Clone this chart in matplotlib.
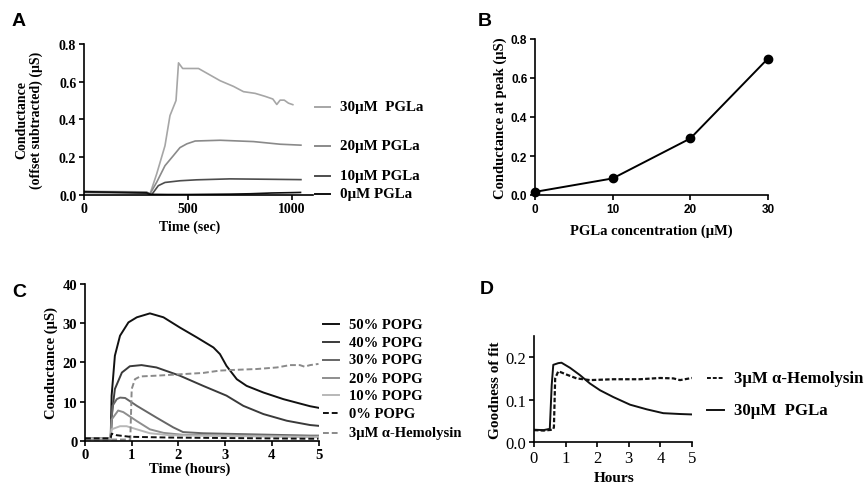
import matplotlib
matplotlib.use('Agg')
import matplotlib.pyplot as plt

plt.rcParams['font.family'] = ['Liberation Serif', 'DejaVu Serif']
plt.rcParams['axes.linewidth'] = 1.2
plt.rcParams['xtick.major.width'] = 1.2
plt.rcParams['ytick.major.width'] = 1.2
plt.rcParams['xtick.major.size'] = 3.5
plt.rcParams['ytick.major.size'] = 3.5

W, H = 867, 485

# ---- panel A : conductance vs time (sec)
a_0_t = [0, 100, 200, 300, 320, 400, 500, 600, 700, 800, 900, 1000, 1040]
a_0_v = [0.016, 0.014, 0.012, 0.010, 0.002, 0.001, 0.001, 0.002, 0.003, 0.005, 0.009, 0.011, 0.012]
a_10_t = [0, 100, 200, 300, 325, 357, 389, 461, 541, 701, 878, 1042]
a_10_v = [0.012, 0.011, 0.010, 0.008, 0.0, 0.048, 0.065, 0.074, 0.079, 0.084, 0.082, 0.080]
a_20_t = [0, 100, 200, 300, 317, 349, 389, 429, 461, 494, 534, 654, 814, 942, 1042]
a_20_v = [0.016, 0.015, 0.014, 0.013, 0.004, 0.066, 0.154, 0.207, 0.25, 0.27, 0.285, 0.289, 0.282, 0.268, 0.263]
a_30_t = [0, 100, 200, 300, 317, 349, 389, 413, 442, 454, 474, 550, 654, 718, 766, 822, 870, 907,
          926, 942, 962, 982, 1003]
a_30_v = [0.018, 0.017, 0.016, 0.015, 0.004, 0.11, 0.26, 0.42, 0.50, 0.70, 0.67, 0.67, 0.605, 0.575,
          0.547, 0.538, 0.522, 0.508, 0.479, 0.502, 0.502, 0.486, 0.478]
a_labels = ['30\u03bcM  PGLa', '20\u03bcM PGLa', '10\u03bcM PGLa', '0\u03bcM PGLa']
a_label_y = [0.467, 0.26, 0.10, 0.004]

# ---- panel B : peak conductance vs PGLa concentration
b_conc = [0, 10, 20, 30]
b_peak = [0.016, 0.085, 0.29, 0.70]

# ---- panel C : conductance vs time (hours)
c_50_t = [0, 0.55, 0.57, 0.64, 0.75, 0.93, 1.11, 1.39, 1.68, 2.03, 2.39, 2.75, 2.89, 3.03, 3.25, 3.46,
          3.82, 4.25, 4.82, 5.0]
c_50_v = [0.6, 0.6, 11.5, 21.7, 26.8, 30.2, 31.5, 32.5, 31.5, 28.9, 26.4, 23.8, 22.1, 19.1, 15.7, 14.0,
          12.3, 10.6, 8.8, 8.4]
c_40_t = [0, 0.55, 0.58, 0.64, 0.79, 0.96, 1.21, 1.53, 2.03, 2.53, 3.03, 3.39, 3.82, 4.32, 4.82, 5.0]
c_40_v = [0.6, 0.6, 7.2, 13.2, 17.4, 19.0, 19.3, 18.7, 16.6, 14.0, 11.5, 8.9, 6.8, 5.1, 4.0, 3.8]
c_30_t = [0, 0.55, 0.59, 0.68, 0.75, 0.86, 1.11, 1.53, 1.89, 2.1, 2.53, 4.82, 5.0]
c_30_v = [0.6, 0.6, 8.9, 10.6, 11.0, 10.9, 8.9, 5.9, 3.4, 2.2, 1.9, 1.3, 1.3]
c_20_t = [0, 0.55, 0.57, 0.71, 0.82, 1.11, 1.39, 1.68, 2.1, 4.82, 5.0]
c_20_v = [0.6, 0.6, 5.4, 7.7, 7.3, 5.0, 2.9, 2.0, 1.5, 1.1, 1.1]
c_10_t = [0, 0.55, 0.57, 0.75, 0.89, 1.11, 1.39, 1.82, 4.82, 5.0]
c_10_v = [0.6, 0.6, 2.9, 3.7, 3.7, 2.9, 1.9, 1.4, 0.9, 0.9]
c_0_t = [0, 0.55, 0.57, 0.68, 0.96, 1.82, 4.82, 5.0]
c_0_v = [0.6, 0.6, 1.8, 1.4, 1.0, 0.8, 0.5, 0.5]
c_hl_t = [0, 0.55, 0.97, 1.0, 1.07, 1.18, 1.53, 2.1, 2.53, 2.89, 3.25, 3.68, 4.11, 4.39, 4.6, 4.7,
          4.82, 5.0]
c_hl_v = [0.3, 0.3, 0.3, 13.2, 15.7, 16.4, 16.6, 17.0, 17.3, 17.9, 18.1, 18.3, 18.7, 19.3, 19.3, 18.9,
          19.3, 19.6]
c_labels = ['50% POPG', '40% POPG', '30% POPG', '20% POPG', '10% POPG', '0% POPG',
            '3\u03bcM \u03b1-Hemolysin']
c_label_y = [29.7, 25.1, 20.6, 16.0, 11.6, 7.0, 2.0]

# ---- panel D : goodness of fit
d_pg_t = [0, 0.3, 0.5, 0.56, 0.61, 0.77, 0.87, 1.14, 1.45, 1.77, 2.09, 2.51, 3.04, 3.57, 4.09, 4.62, 5.0]
d_pg_v = [0.029, 0.028, 0.031, 0.134, 0.182, 0.186, 0.187, 0.175, 0.158, 0.138, 0.122, 0.106, 0.088,
          0.077, 0.068, 0.066, 0.065]
d_hl_t = [0, 0.3, 0.6, 0.63, 0.67, 0.77, 1.03, 1.35, 1.77, 2.51, 3.35, 3.99, 4.41, 4.62, 5.0]
d_hl_v = [0.028, 0.027, 0.029, 0.035, 0.150, 0.167, 0.159, 0.150, 0.146, 0.148, 0.148, 0.151, 0.150,
          0.146, 0.151]
d_labels = ['3\u03bcM \u03b1-Hemolysin', '30\u03bcM  PGLa']
d_label_y = [0.152, 0.076]


def box(l, r, t, b):
    return [l / W, 1 - b / H, (r - l) / W, (b - t) / H]


def style_ax(ax):
    ax.spines['top'].set_visible(False)
    ax.spines['right'].set_visible(False)
    ax.tick_params(direction='out', pad=2)


def side_labels(ax, labels, ys, colors, styles, x0, x1, xt, size):
    # legend entries drawn next to the plot area (data coords, unclipped)
    for lab, y, c, ls in zip(labels, ys, colors, styles):
        ax.plot([x0, x1], [y, y], color=c, ls=ls, lw=1.4, clip_on=False)
        ax.text(xt, y, lab, va='center', ha='left', fontsize=size, fontweight='bold')


fig = plt.figure(figsize=(W / 100, H / 100), dpi=100)

# A
ax = fig.add_axes(box(84, 313, 45, 195.7))
style_ax(ax)
a_cols = ['#a6a6a6', '#8a8a8a', '#4d4d4d', '#111111']
ax.plot(a_30_t, a_30_v, color=a_cols[0], lw=1.2)
ax.plot(a_20_t, a_20_v, color=a_cols[1], lw=1.2)
ax.plot(a_10_t, a_10_v, color=a_cols[2], lw=1.2)
ax.plot(a_0_t, a_0_v, color=a_cols[3], lw=1.2)
ax.set_xlim(0, 1100)
ax.set_ylim(0, 0.8)
ax.set_xticks([0, 500, 1000])
ax.set_yticks([0, 0.2, 0.4, 0.6, 0.8])
ax.set_yticklabels(['0.0', '0.2', '0.4', '0.6', '0.8'])
for t in ax.get_xticklabels() + ax.get_yticklabels():
    t.set_fontweight('bold')
    t.set_fontsize(10)
ax.set_xlabel('Time (sec)', fontsize=10, fontweight='bold')
ax.xaxis.set_label_coords(0.46, -0.165)
ax.set_ylabel('Conductance\n(offset subtracted) (\u03bcS)', fontsize=10, fontweight='bold',
              linespacing=1.1)
ax.yaxis.set_label_coords(-0.18, 0.5)
side_labels(ax, a_labels, a_label_y, a_cols, ['-'] * 4, 1112, 1183, 1231, 10.8)

# B
ax = fig.add_axes(box(535, 768, 40, 196))
style_ax(ax)
ax.plot(b_conc, b_peak, color='black', lw=1.4, marker='o', ms=6, clip_on=False, zorder=3)
ax.set_xlim(0, 30)
ax.set_ylim(0, 0.8)
ax.set_xticks([0, 10, 20, 30])
ax.set_yticks([0, 0.2, 0.4, 0.6, 0.8])
ax.set_yticklabels(['0.0', '0.2', '0.4', '0.6', '0.8'])
for t in ax.get_xticklabels() + ax.get_yticklabels():
    t.set_family(['Liberation Sans', 'DejaVu Sans'])
    t.set_fontweight('bold')
    t.set_fontsize(8.5)
ax.set_xlabel('PGLa concentration (\u03bcM)', fontsize=10.5, fontweight='bold')
ax.xaxis.set_label_coords(0.5, -0.18)
ax.set_ylabel('Conductance at peak (\u03bcS)', fontsize=10.5, fontweight='bold')
ax.yaxis.set_label_coords(-0.12, 0.5)

# C
ax = fig.add_axes(box(85, 318.5, 285, 441.7))
style_ax(ax)
c_cols = ['#111111', '#3a3a3a', '#666666', '#8e8e8e', '#b8b8b8', '#111111', '#8a8a8a']
c_ls = ['-', '-', '-', '-', '-', (0, (3, 1.5)), (0, (3, 1.5))]
ax.plot(c_50_t, c_50_v, color=c_cols[0], lw=1.4)
ax.plot(c_40_t, c_40_v, color=c_cols[1], lw=1.4)
ax.plot(c_30_t, c_30_v, color=c_cols[2], lw=1.4)
ax.plot(c_20_t, c_20_v, color=c_cols[3], lw=1.4)
ax.plot(c_10_t, c_10_v, color=c_cols[4], lw=1.4)
ax.plot(c_hl_t, c_hl_v, color=c_cols[6], lw=1.4, ls=c_ls[6])
ax.plot(c_0_t, c_0_v, color=c_cols[5], lw=1.4, ls=c_ls[5])
ax.set_xlim(0, 5)
ax.set_ylim(0, 40)
ax.set_xticks(range(6))
ax.set_yticks([0, 10, 20, 30, 40])
for t in ax.get_xticklabels() + ax.get_yticklabels():
    t.set_fontweight('bold')
    t.set_fontsize(10.5)
ax.set_xlabel('Time (hours)', fontsize=10.5, fontweight='bold')
ax.xaxis.set_label_coords(0.45, -0.13)
ax.set_ylabel('Conductance (\u03bcS)', fontsize=10.5, fontweight='bold')
ax.yaxis.set_label_coords(-0.115, 0.5)
side_labels(ax, c_labels, c_label_y, c_cols, c_ls, 5.09, 5.44, 5.65, 10.5)

# D
ax = fig.add_axes(box(534, 692, 337, 443))
style_ax(ax)
ax.plot(d_hl_t, d_hl_v, color='#111111', lw=1.6, ls=(0, (2, 1)))
ax.plot(d_pg_t, d_pg_v, color='#111111', lw=1.4)
ax.set_xlim(0, 5)
ax.set_ylim(0, 0.25)
ax.set_xticks(range(6))
ax.set_yticks([0, 0.1, 0.2])
ax.set_yticklabels(['0.0', '0.1', '0.2'])
for t in ax.get_xticklabels() + ax.get_yticklabels():
    t.set_fontsize(12)
ax.set_xlabel('Hours', fontsize=11, fontweight='bold')
ax.xaxis.set_label_coords(0.506, -0.27)
ax.set_ylabel('Goodness of fit', fontsize=11, fontweight='bold')
ax.yaxis.set_label_coords(-0.2, 0.5)
side_labels(ax, d_labels, d_label_y, ['#111111', '#111111'], [(0, (2, 1)), '-'], 5.47, 6.0, 6.33, 12.1)

# panel letters
for lab, x, y in [('A', 12, 22), ('B', 478, 21), ('C', 12, 293), ('D', 480, 290)]:
    fig.text(x / W, 1 - y / H, lab, fontsize=14, fontweight='bold', va='center', ha='left',
             family=['Liberation Sans', 'DejaVu Sans'])

fig.savefig('out.png', dpi=100)
